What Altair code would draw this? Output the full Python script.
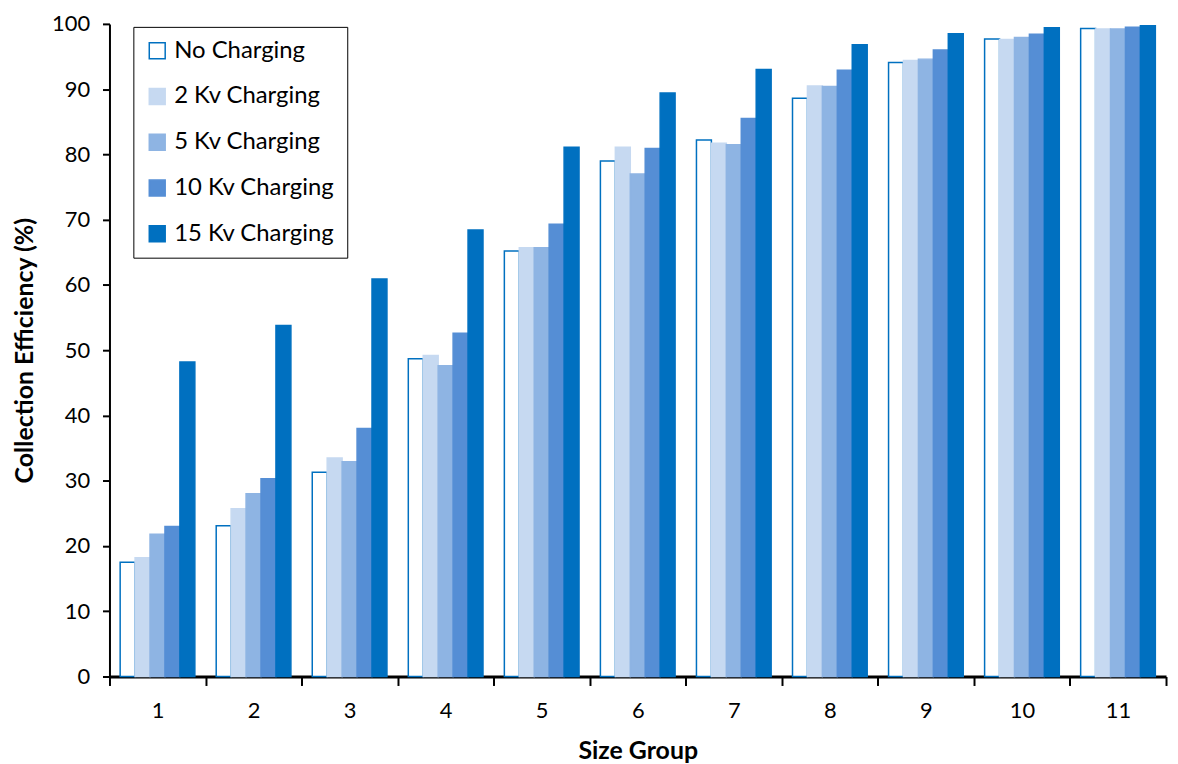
import altair as alt
import pandas as pd

groups = ["1", "2", "3", "4", "5", "6", "7", "8", "9", "10", "11"]
series_names = ["No Charging", "2 Kv Charging", "5 Kv Charging", "10 Kv Charging", "15 Kv Charging"]
no_charging = [17.5, 23.1, 31.3, 48.7, 65.2, 79.0, 82.2, 88.6, 94.1, 97.7, 99.3]
kv2 = [18.2, 25.7, 33.5, 49.2, 65.7, 81.1, 81.7, 90.5, 94.4, 97.6, 99.2]
kv5 = [21.8, 28.0, 32.9, 47.6, 65.7, 77.0, 81.5, 90.4, 94.6, 97.9, 99.2]
kv10 = [23.0, 30.3, 38.0, 52.6, 69.3, 80.9, 85.5, 92.9, 96.0, 98.4, 99.5]
kv15 = [48.2, 53.8, 60.9, 68.4, 81.1, 89.4, 93.0, 96.8, 98.5, 99.4, 99.7]

fill_colors = ["#FFFFFF", "#C6D9F1", "#8EB4E3", "#558ED5", "#0070C0"]
stroke_colors = ["#0070C0", "#C6D9F1", "#8EB4E3", "#558ED5", "#0070C0"]

rows = []
for name, vals in zip(series_names, [no_charging, kv2, kv5, kv10, kv15]):
    for g, v in zip(groups, vals):
        rows.append({"group": g, "series": name, "value": v})
df = pd.DataFrame(rows)

FONT = "Lato"

chart = alt.Chart(df).mark_bar(strokeWidth=1.5).encode(
    x=alt.X(
        "group:N",
        sort=groups,
        scale=alt.Scale(paddingInner=0, paddingOuter=0),
        axis=alt.Axis(
            title="Size Group",
            labelAngle=0,
            tickBand="extent",
            labelFont=FONT,
            labelFontSize=22,
            labelColor="black",
            labelPadding=15,
            titleFont=FONT,
            titleFontSize=25,
            titleFontWeight="bold",
            titleColor="black",
            titlePadding=17,
            domainColor="black",
            domainWidth=3,
            tickColor="black",
            tickWidth=2,
            tickSize=9,
        ),
    ),
    xOffset=alt.XOffset(
        "series:N",
        sort=series_names,
        scale=alt.Scale(paddingInner=0, paddingOuter=0.715),
    ),
    y=alt.Y(
        "value:Q",
        scale=alt.Scale(domain=[0, 100], nice=False),
        axis=alt.Axis(
            title="Collection Efficiency (%)",
            values=[0, 10, 20, 30, 40, 50, 60, 70, 80, 90, 100],
            grid=False,
            labelFont=FONT,
            labelFontSize=22,
            labelColor="black",
            labelPadding=13,
            titleFont=FONT,
            titleFontSize=25,
            titleFontWeight="bold",
            titleColor="black",
            titlePadding=14,
            domainColor="black",
            domainWidth=2,
            tickColor="black",
            tickWidth=2,
            tickSize=7,
        ),
    ),
    fill=alt.Fill(
        "series:N",
        sort=series_names,
        scale=alt.Scale(domain=series_names, range=fill_colors),
        title=None,
        legend=alt.Legend(
            orient="none",
            legendX=24,
            legendY=3,
            padding=12,
            strokeColor="black",
            fillColor="white",
            symbolType="square",
            symbolSize=256,
            symbolStrokeWidth=1.5,
            labelFont=FONT,
            labelFontSize=24,
            labelColor="black",
            labelOffset=5,
            rowPadding=22,
            labelLimit=300,
        ),
    ),
    stroke=alt.Stroke(
        "series:N",
        sort=series_names,
        scale=alt.Scale(domain=series_names, range=stroke_colors),
        title=None,
    ),
).properties(
    width=1062,
    height=656,
    padding={"left": 102, "top": 14, "right": 4, "bottom": 92},
    autosize=alt.AutoSizeParams(type="none"),
).configure_view(stroke=None)

chart.save("out.html", embed_options={"renderer": "svg", "actions": False})
